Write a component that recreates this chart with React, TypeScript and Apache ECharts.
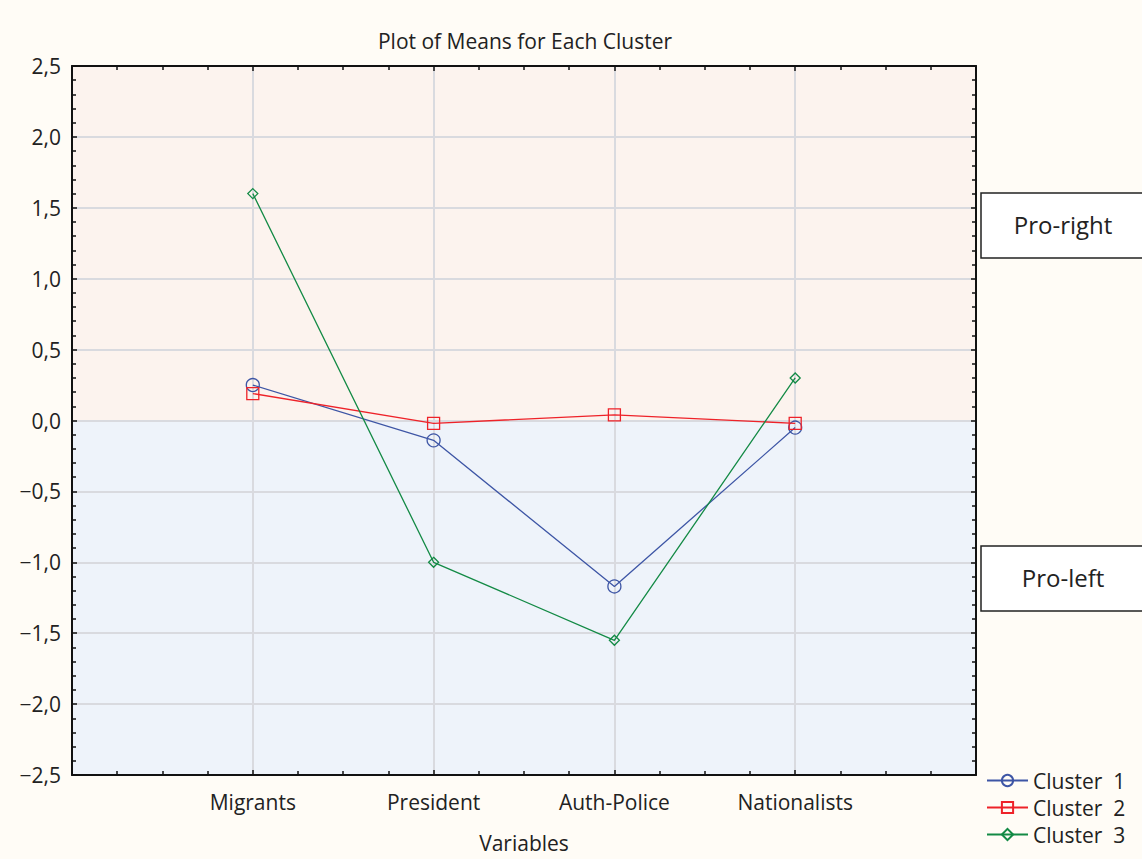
import React, { useEffect, useRef } from "react";
import * as echarts from "echarts";

const categories = ["Migrants", "President", "Auth-Police", "Nationalists"];
const catPositions = [1, 2, 3, 4];
const cluster1 = [0.25, -0.14, -1.17, -0.05];
const cluster2 = [0.19, -0.02, 0.04, -0.02];
const cluster3 = [1.6, -1.0, -1.55, 0.3];
const seriesNames = ["Cluster  1", "Cluster  2", "Cluster  3"];
const seriesColors = ["#3D55A5", "#EE2229", "#138A45"];
const seriesSymbols = ["circle", "rect", "diamond"];
const seriesSizes = [13, 12, 10];

const FONT = "Open Sans";

function fmtY(v: number) {
  const s = Math.abs(v).toFixed(1).replace(".", ",");
  return v < -1e-9 ? "\u2212" + s : s;
}

export default function App() {
  const ref = useRef<HTMLDivElement>(null);
  useEffect(() => {
    if (!ref.current) return;
    const chart = echarts.init(ref.current, undefined, { renderer: "svg" });
    const allData = [cluster1, cluster2, cluster3];
    const series: any[] = allData.map((vals, i) => ({
      name: seriesNames[i],
      type: "line",
      data: vals.map((v, j) => [catPositions[j], v]),
      symbol: seriesSymbols[i],
      symbolSize: seriesSizes[i],
      showSymbol: true,
      lineStyle: { color: seriesColors[i], width: 1.3 },
      itemStyle: { color: "rgba(0,0,0,0)", borderColor: seriesColors[i], borderWidth: 1.3 },
      z: 5 + i,
    }));
    series.push({
      type: "line",
      data: [],
      silent: true,
      markArea: {
        silent: true,
        data: [
          [{ yAxis: 0, itemStyle: { color: "#FCF3EE" } }, { yAxis: 2.5 }],
          [{ yAxis: -2.5, itemStyle: { color: "#EEF3FA" } }, { yAxis: 0 }],
        ],
      },
      z: 0,
    });
    const tickStyle = { lineStyle: { color: "#111", width: 1.5 } };
    const labelStyle = { fontFamily: FONT, fontSize: 21, color: "#222" };
    chart.setOption({
      animation: false,
      backgroundColor: "#FFFCF6",
      textStyle: { fontFamily: FONT },
      title: {
        text: "Plot of Means for Each Cluster",
        left: 520,
        top: 25,
        textAlign: "center",
        textStyle: { fontFamily: FONT, fontSize: 21, fontWeight: "normal", color: "#222" },
      },
      grid: { left: 72, right: 166, top: 66, bottom: 84 },
      xAxis: [
        {
          type: "value",
          min: 0,
          max: 5,
          interval: 1,
          position: "bottom",
          z: 2,
          name: "Variables",
          nameLocation: "middle",
          nameGap: 57,
          nameTextStyle: labelStyle,
          axisLine: { show: true, onZero: false, lineStyle: { color: "#111", width: 2 } },
          axisTick: { show: true, inside: true, length: 5, ...tickStyle },
          minorTick: { show: true, splitNumber: 4, length: 4, ...tickStyle },
          splitLine: {
            show: true,
            lineStyle: { color: "#D9DADF", width: 2 },
          },
          axisLabel: {
            margin: 16,
            ...labelStyle,
            formatter: (v: number) => {
              const idx = catPositions.indexOf(v);
              return idx >= 0 ? categories[idx] : "";
            },
          },
        },
        {
          type: "value",
          min: 0,
          max: 5,
          interval: 1,
          position: "top",
          z: 2,
          axisLine: { show: true, onZero: false, lineStyle: { color: "#111", width: 2 } },
          axisTick: { show: true, inside: true, length: 5, ...tickStyle },
          minorTick: { show: true, splitNumber: 4, length: 4, ...tickStyle },
          splitLine: { show: false },
          axisLabel: { show: false },
        },
      ],
      yAxis: [
        {
          type: "value",
          min: -2.5,
          max: 2.5,
          interval: 0.5,
          position: "left",
          z: 2,
          axisLine: { show: true, onZero: false, lineStyle: { color: "#111", width: 2 } },
          axisTick: { show: true, inside: true, length: 5, ...tickStyle },
          minorTick: { show: true, splitNumber: 5, length: 4, ...tickStyle },
          splitLine: { show: true, lineStyle: { color: "#D9DADF", width: 2 } },
          axisLabel: {
            margin: 11,
            ...labelStyle,
            formatter: fmtY,
          },
        },
        {
          type: "value",
          min: -2.5,
          max: 2.5,
          interval: 0.5,
          position: "right",
          z: 2,
          axisLine: { show: true, onZero: false, lineStyle: { color: "#111", width: 2 } },
          axisTick: { show: true, inside: true, length: 5, ...tickStyle },
          minorTick: { show: true, splitNumber: 5, length: 4, ...tickStyle },
          splitLine: { show: false },
          axisLabel: { show: false },
        },
      ],
      legend: {
        orient: "vertical",
        left: 981,
        top: 765,
        itemWidth: 41,
        itemHeight: 14,
        itemGap: 6,
        data: seriesNames,
        textStyle: { fontFamily: FONT, fontSize: 21, color: "#222", lineHeight: 21 },
      },
      graphic: [
        {
          type: "rect",
          shape: { x: 981, y: 193, width: 170, height: 65 },
          style: { fill: "#FFFFFF", stroke: "#222", lineWidth: 1.5 },
        },
        {
          type: "text",
          x: 1063,
          y: 224,
          style: {
            text: "Pro-right",
            fontFamily: FONT,
            fontSize: 24,
            fill: "#222",
            align: "center",
            verticalAlign: "middle",
          },
        },
        {
          type: "rect",
          shape: { x: 981, y: 546, width: 170, height: 65 },
          style: { fill: "#FFFFFF", stroke: "#222", lineWidth: 1.5 },
        },
        {
          type: "text",
          x: 1063,
          y: 577,
          style: {
            text: "Pro-left",
            fontFamily: FONT,
            fontSize: 24,
            fill: "#222",
            align: "center",
            verticalAlign: "middle",
          },
        },
      ],
      series,
    });
    return () => chart.dispose();
  }, []);
  return (
    <div
      ref={ref}
      style={{ position: "fixed", left: 0, top: 0, width: 1142, height: 859 }}
    />
  );
}
